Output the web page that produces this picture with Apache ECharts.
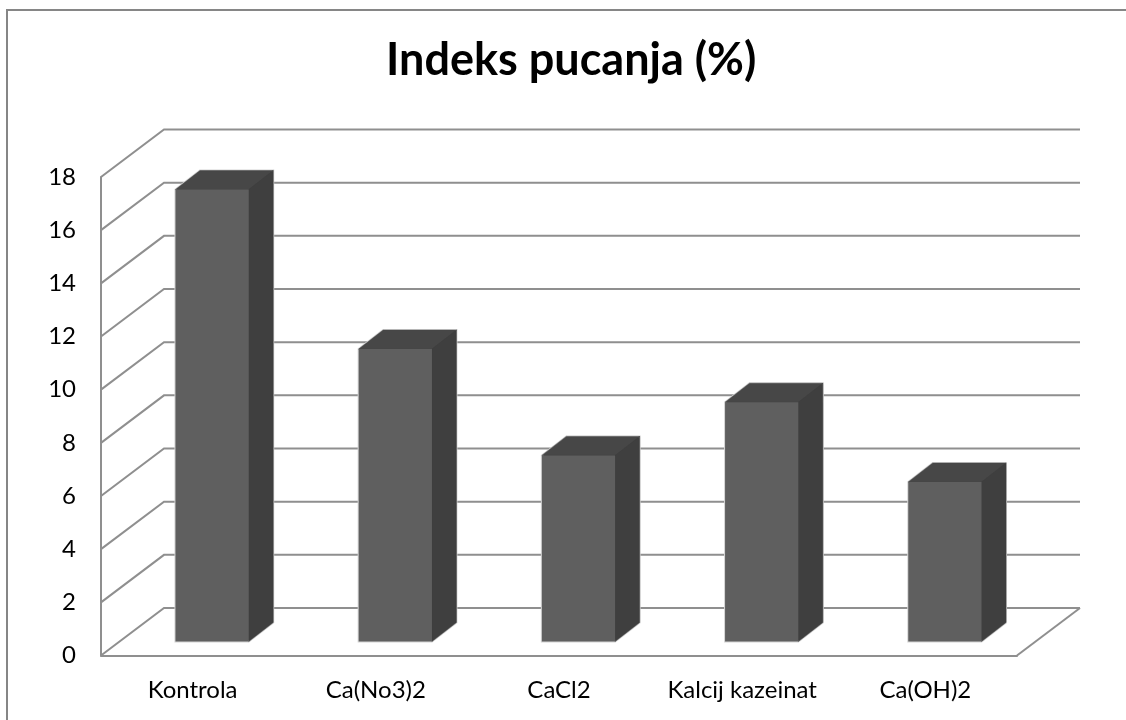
<!DOCTYPE html>
<html>
<head>
<meta charset="utf-8">
<style>html,body{margin:0;padding:0;background:#fff}#c{width:1126px;height:720px}</style>
<script src="https://cdn.jsdelivr.net/npm/echarts@6/dist/echarts.min.js"></script>
</head>
<body>
<div id="c"></div>
<script>
var titleText = 'Indeks pucanja (%)';
var categories = ['Kontrola', 'Ca(No3)2', 'CaCl2', 'Kalcij kazeinat', 'Ca(OH)2'];
var values = [17, 11, 7, 9, 6];
var gridLevels = [0, 2, 4, 6, 8, 10, 12, 14, 16, 18];

var WALL_DX = 63, WALL_DY = -47.5;
var BAR_DX = 19.5, BAR_DY = -14;
var DEPTH_DX = 24.5, DEPTH_DY = -19;
var LINE = '#8f8f8f';
var FONT = 'Lato, "Open Sans", sans-serif';

var chart = echarts.init(document.getElementById('c'), null, {renderer: 'canvas'});

function renderWall(params, api) {
  var cs = params.coordSys;
  var p = api.coord([0, api.value(0)]);
  var left = cs.x, right = cs.x + cs.width, y = p[1];
  var style = {stroke: LINE, lineWidth: 2, fill: null};
  var children = [{
    type: 'polyline',
    shape: {points: [[left, y], [left + WALL_DX, y + WALL_DY], [right + WALL_DX, y + WALL_DY]]},
    style: style
  }];
  if (api.value(0) === 0) {
    children.push({
      type: 'line',
      shape: {x1: right, y1: y, x2: right + WALL_DX, y2: y + WALL_DY},
      style: style
    });
  }
  return {type: 'group', children: children};
}

function renderBar(params, api) {
  var top = api.coord([api.value(0), api.value(1)]);
  var base = api.coord([api.value(0), 0]);
  var w = api.size([1, 0])[0] * 0.4;
  var x0 = top[0] - w / 2 + BAR_DX, x1 = top[0] + w / 2 + BAR_DX;
  var yt = top[1] + BAR_DY, yb = base[1] + BAR_DY;
  return {type: 'group', children: [
    {type: 'polygon', shape: {points: [
        [x0, yt], [x0 + DEPTH_DX, yt + DEPTH_DY], [x1 + DEPTH_DX, yt + DEPTH_DY],
        [x1 + DEPTH_DX, yb + DEPTH_DY], [x1, yb], [x0, yb]]},
      style: {fill: '#3f3f3f', stroke: '#d4d4d4', lineWidth: 2}},
    {type: 'polygon', shape: {points: [[x0, yt], [x0 + DEPTH_DX, yt + DEPTH_DY], [x1 + DEPTH_DX, yt + DEPTH_DY], [x1, yt]]},
      style: {fill: '#474747', stroke: '#474747', lineWidth: 0.5}},
    {type: 'polygon', shape: {points: [[x1, yt], [x1 + DEPTH_DX, yt + DEPTH_DY], [x1 + DEPTH_DX, yb + DEPTH_DY], [x1, yb]]},
      style: {fill: '#3f3f3f', stroke: '#3f3f3f', lineWidth: 0.5}},
    {type: 'rect', shape: {x: x0, y: yt, width: w, height: yb - yt},
      style: {fill: '#5f5f5f'}}
  ]};
}

chart.setOption({
  animation: false,
  backgroundColor: '#ffffff',
  title: {
    text: titleText, left: 386, top: 38, padding: 0,
    textStyle: {fontFamily: FONT, fontSize: 45, fontWeight: 'bold', color: '#000'}
  },
  graphic: [{
    type: 'polyline', z: -10,
    shape: {points: [[7, 720], [7, 10], [1126, 10]]},
    style: {fill: 'none', stroke: '#868686', lineWidth: 2}
  }],
  grid: {left: 101, right: 109, top: 177, bottom: 64.5},
  xAxis: {
    type: 'category', data: categories,
    axisLine: {show: true, lineStyle: {color: LINE, width: 2}},
    axisTick: {show: false},
    splitLine: {show: false},
    axisLabel: {fontFamily: FONT, fontSize: 24, color: '#000', margin: 23, interval: 0}
  },
  yAxis: {
    type: 'value', min: 0, max: 18, interval: 2,
    axisLine: {show: true, lineStyle: {color: LINE, width: 2}},
    axisTick: {show: false},
    splitLine: {show: false},
    axisLabel: {fontFamily: FONT, fontSize: 24, color: '#000', margin: 25}
  },
  series: [
    {type: 'custom', name: 'wall', data: gridLevels.map(function (v) { return [v]; }),
      renderItem: renderWall, encode: {y: 0}, silent: true, z: 1, clip: false},
    {type: 'custom', name: 'Indeks pucanja', data: values.map(function (v, i) { return [i, v]; }),
      renderItem: renderBar, encode: {x: 0, y: 1}, z: 2, clip: false}
  ]
});
</script>
</body>
</html>
